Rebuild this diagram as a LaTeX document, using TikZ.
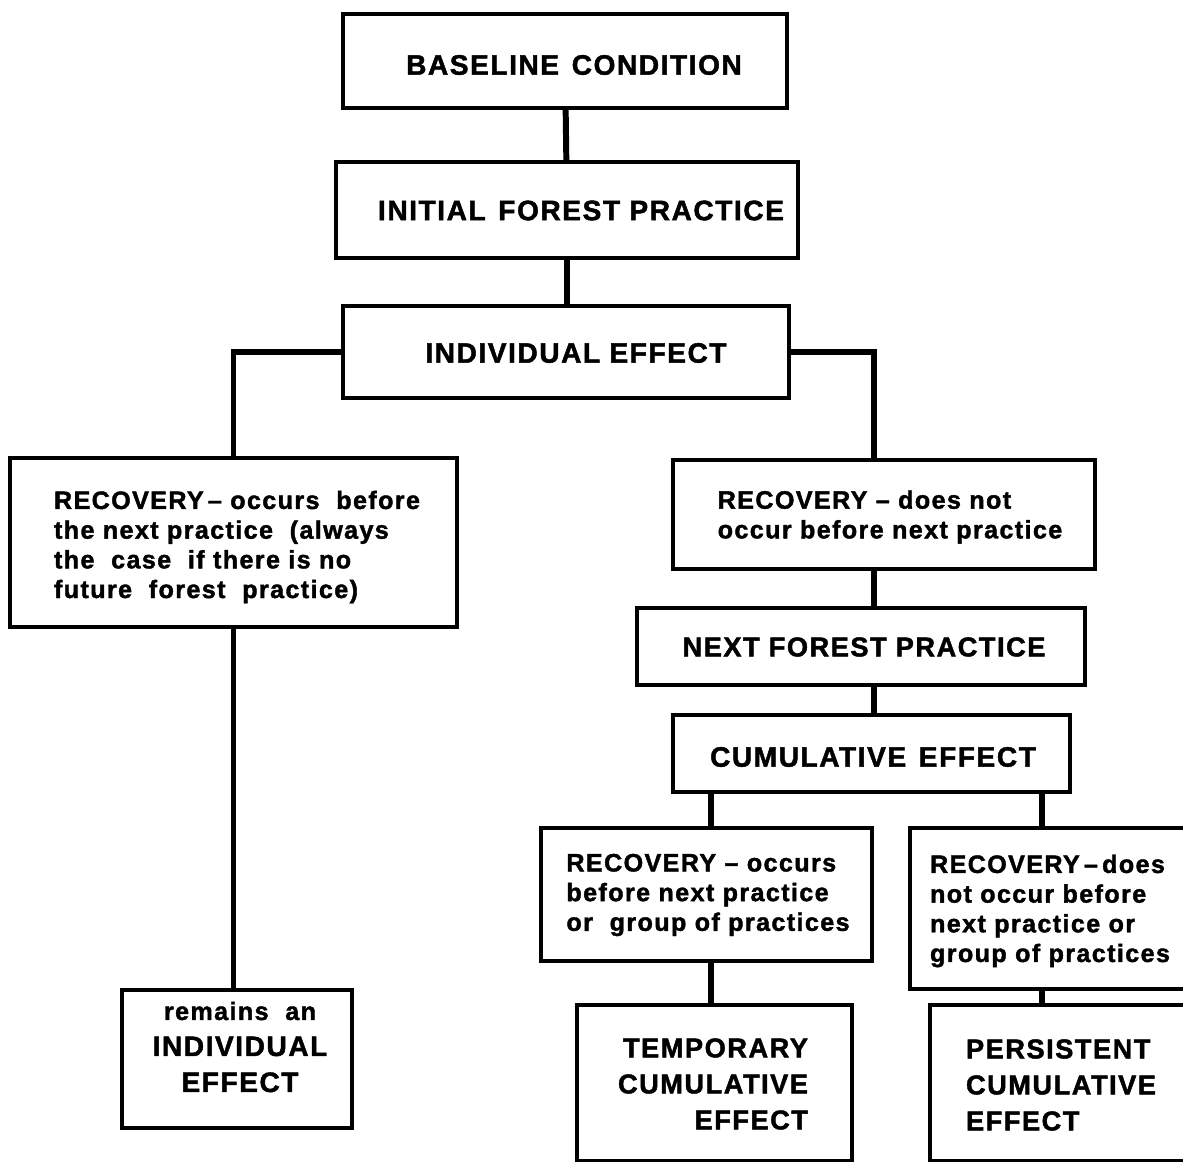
\documentclass[tikz,border=0pt]{standalone}
\usepackage{fontspec}
\setmainfont{Liberation Sans}[LetterSpace=5.5, BoldFeatures={FakeBold=1.6}]
\def\pxu{0.02cm}
\begin{document}
\begin{tikzpicture}[x=0.02cm,y=-0.02cm,
  box/.style={draw, line width=2.3pt, inner sep=0pt},
  link/.style={line width=3.4pt},
  captext/.style={font=\bfseries\fontsize{16}{20.5}\selectfont, inner sep=0pt},
  body/.style={font=\bfseries\fontsize{14.3}{16.9}\selectfont, align=left, inner sep=0pt}]
\useasboundingbox (0,0) rectangle (1183,1162);
\clip (0,0) rectangle (1183,1162);
\fill[white] (0,0) rectangle (1183,1162);

% the main trunk
\node[box, minimum width=444*\pxu, minimum height=94*\pxu] (base) at (565,61) {};
\node[box, minimum width=462*\pxu, minimum height=96*\pxu] (init) at (567,210) {};
\node[box, minimum width=446*\pxu, minimum height=92*\pxu] (indiv) at (566,352) {};

% left branch
\node[box, minimum width=447*\pxu, minimum height=169*\pxu] (recL) at (233.5,542.5) {};
\node[box, minimum width=230*\pxu, minimum height=138*\pxu] (remain) at (237,1059) {};

% right branch
\coordinate (spine) at (874,0);
\node[box, minimum width=422*\pxu, minimum height=109*\pxu] (recR) at (884,514.5) {};
\node[box, minimum width=448*\pxu, minimum height=77*\pxu] (next) at (861,646.5) {};
\node[box, minimum width=397*\pxu, minimum height=77*\pxu] (cum) at (871.5,753.5) {};
\node[box, minimum width=331*\pxu, minimum height=133*\pxu] (recA) at (706.5,894.5) {};
\node[box, minimum width=280*\pxu, minimum height=161*\pxu] (recB) at (1050,908.5) {};
\node[box, minimum width=275*\pxu, minimum height=156*\pxu] (temp) at (714.5,1083) {};
\node[box, minimum width=260*\pxu, minimum height=156*\pxu] (pers) at (1060,1083) {};
\coordinate (splitA) at (711,0);
\coordinate (splitB) at (1042,0);

% labels
\node[captext] (base-t) at (574,65) {BASELINE\hspace{0.45em}CONDITION};
\node[captext] (init-t) at (581,210.5) {INITIAL\hspace{0.45em}FOREST PRACTICE};
\node[captext] (indiv-t) at (576,353) {INDIVIDUAL EFFECT};
\node[body] (recL-t) at (237,547) {RECOVERY\,–\ occurs\ \ before\\the next practice\ \ (always\\the\ \ case\ \ if there is no\\future\ \ forest\ \ practice)};
\node[body] (recR-t) at (890,517) {RECOVERY – does not\\occur before next practice};
\node[captext, font=\bfseries\fontsize{15.5}{20}\selectfont] (next-t) at (864,647) {NEXT FOREST PRACTICE};
\node[captext] (cum-t) at (873,757) {CUMULATIVE\hspace{0.45em}EFFECT};
\node[body] (recA-t) at (708,895) {RECOVERY – occurs\\before next practice\\or\ \ group of practices};
\node[body] (recB-t) at (1050,911) {RECOVERY\,–\,does\\not occur before\\next practice or\\group of practices};
\node[captext, align=center] (remain-t) at (240,1047) {{\fontsize{14.3}{20}\selectfont remains\ \ an}\\INDIVIDUAL\\EFFECT};
\node[captext, align=right, font=\bfseries\fontsize{15.5}{20.5}\selectfont] (temp-t) at (713,1084) {TEMPORARY\\CUMULATIVE\\EFFECT};
\node[captext, align=left, font=\bfseries\fontsize{15.5}{20.5}\selectfont] (pers-t) at (1061,1085) {PERSISTENT\\CUMULATIVE\\EFFECT};

% connectors
\draw[link] (base) -- (init);
\draw[link] (init.south) -- (init.south |- indiv.north);
\draw[link] (indiv.west) -| (recL.north);
\draw[link] (indiv.east) -| (recR.north -| spine);
\draw[link] (recL.south) -- (recL.south |- remain.north);
\draw[link] (recR.south -| spine) -- (next.north -| spine);
\draw[link] (next.south -| spine) -- (cum.north -| spine);
\draw[link] (cum.south -| splitA) -- (recA.north -| splitA);
\draw[link] (cum.south -| splitB) -- (recB.north -| splitB);
\draw[link] (recA.south -| splitA) -- (temp.north -| splitA);
\draw[link] (recB.south -| splitB) -- (pers.north -| splitB);
\end{tikzpicture}
\end{document}
